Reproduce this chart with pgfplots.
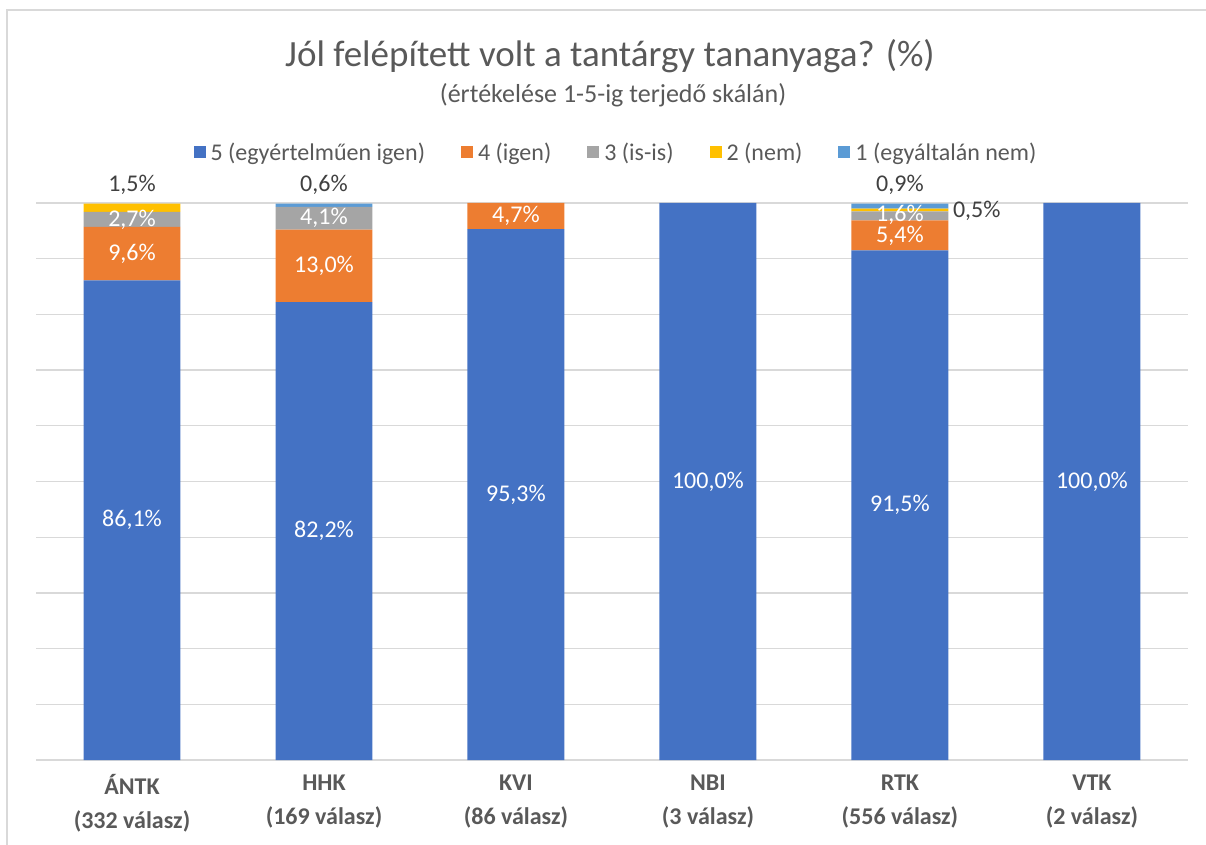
\documentclass[border=0pt]{standalone}
\usepackage{pgfplots}
\pgfplotsset{compat=1.18}
\usepackage{fontspec}
\setmainfont{Carlito}
\definecolor{cA}{HTML}{4472C4}
\definecolor{cB}{HTML}{ED7D31}
\definecolor{cC}{HTML}{A5A5A5}
\definecolor{cD}{HTML}{FFC000}
\definecolor{cE}{HTML}{5B9BD5}
\definecolor{txt}{HTML}{595959}
\definecolor{dtxt}{HTML}{404040}
\definecolor{gridc}{HTML}{D9D9D9}
\newcommand{\lbl}{\fontsize{24}{28}\selectfont}
\begin{document}
\begin{tikzpicture}[x=1pt,y=1pt]
\useasboundingbox (0,0) rectangle (1206,845);
\draw[gridc,line width=2pt] (7,0) -- (7,835) -- (1206,835);
\node[text=txt,font=\fontsize{37}{44}\selectfont] at (610,789) {Jól felépített volt a tantárgy tananyaga? (\%)};
\node[text=txt,font=\fontsize{26}{30}\selectfont] at (613,750) {(értékelése 1-5-ig terjedő skálán)};
\begin{axis}[
  at={(36pt,85pt)}, anchor=south west,
  scale only axis, width=1152pt, height=557pt,
  ybar stacked, bar width=0.505,
  xmin=-0.5, xmax=5.5, ymin=0, ymax=100,
  enlargelimits=false,
  xtick={0,1,2,3,4,5},
  xticklabels={{ÁNTK\\(332 válasz)},{HHK\\(169 válasz)},{KVI\\(86 válasz)},{NBI\\(3 válasz)},{RTK\\(556 válasz)},{VTK\\(2 válasz)}},
  xticklabel style={align=center, font=\fontsize{24}{34}\selectfont\bfseries, text=txt, yshift=-11pt},
  ytick={0,10,...,100}, yticklabels={},
  ymajorgrids, major grid style={draw=gridc, line width=1.3pt},
  axis line style={draw=none}, tick style={draw=none},
  clip=false,
  legend columns=5,
  legend style={at={(0.5035,1.0915)}, anchor=center, draw=none, fill=none,
    font=\fontsize{24}{28}\selectfont, text=txt,
    /tikz/every even column/.append style={column sep=34pt}},
  legend image code/.code={\fill[#1] (0pt,-6pt) rectangle (12pt,6pt); \path (15pt,0pt);},
  after end axis/.code={
    \node[white,font=\lbl] at (axis cs:0,43.05) {86,1\%};
    \node[white,font=\lbl] at (axis cs:0,90.9) {9,6\%};
    \node[white,font=\lbl] at (axis cs:0,97.05) {2,7\%};
    \node[dtxt,font=\lbl] at (axis cs:0,103.3) {1,5\%};
    \node[white,font=\lbl] at (axis cs:1,41.1) {82,2\%};
    \node[white,font=\lbl] at (axis cs:1,88.7) {13,0\%};
    \node[white,font=\lbl] at (axis cs:1,97.25) {4,1\%};
    \node[dtxt,font=\lbl] at (axis cs:1,103.3) {0,6\%};
    \node[white,font=\lbl] at (axis cs:2,47.65) {95,3\%};
    \node[white,font=\lbl] at (axis cs:2,97.65) {4,7\%};
    \node[white,font=\lbl] at (axis cs:3,50) {100,0\%};
    \node[white,font=\lbl] at (axis cs:4,45.75) {91,5\%};
    \node[white,font=\lbl] at (axis cs:4,94.1) {5,4\%};
    \node[white,font=\lbl] at (axis cs:4,97.8) {1,6\%};
    \node[dtxt,font=\lbl] at (axis cs:4,103.2) {0,9\%};
    \node[dtxt,font=\lbl] at (axis cs:4.4,98.6) {0,5\%};
    \node[white,font=\lbl] at (axis cs:5,50) {100,0\%};
  },
]
\addplot[fill=cA, draw=none] coordinates {(0,86.1) (1,82.2) (2,95.3) (3,100) (4,91.5) (5,100)};
\addplot[fill=cB, draw=none] coordinates {(0,9.6) (1,13.0) (2,4.7) (3,0) (4,5.4) (5,0)};
\addplot[fill=cC, draw=none] coordinates {(0,2.7) (1,4.1) (2,0) (3,0) (4,1.6) (5,0)};
\addplot[fill=cD, draw=none] coordinates {(0,1.5) (1,0) (2,0) (3,0) (4,0.5) (5,0)};
\addplot[fill=cE, draw=none] coordinates {(0,0) (1,0.6) (2,0) (3,0) (4,0.9) (5,0)};
\legend{5 (egyértelműen igen),4 (igen),3 (is-is),2 (nem),1 (egyáltalán nem)}
\end{axis}
\end{tikzpicture}
\end{document}
